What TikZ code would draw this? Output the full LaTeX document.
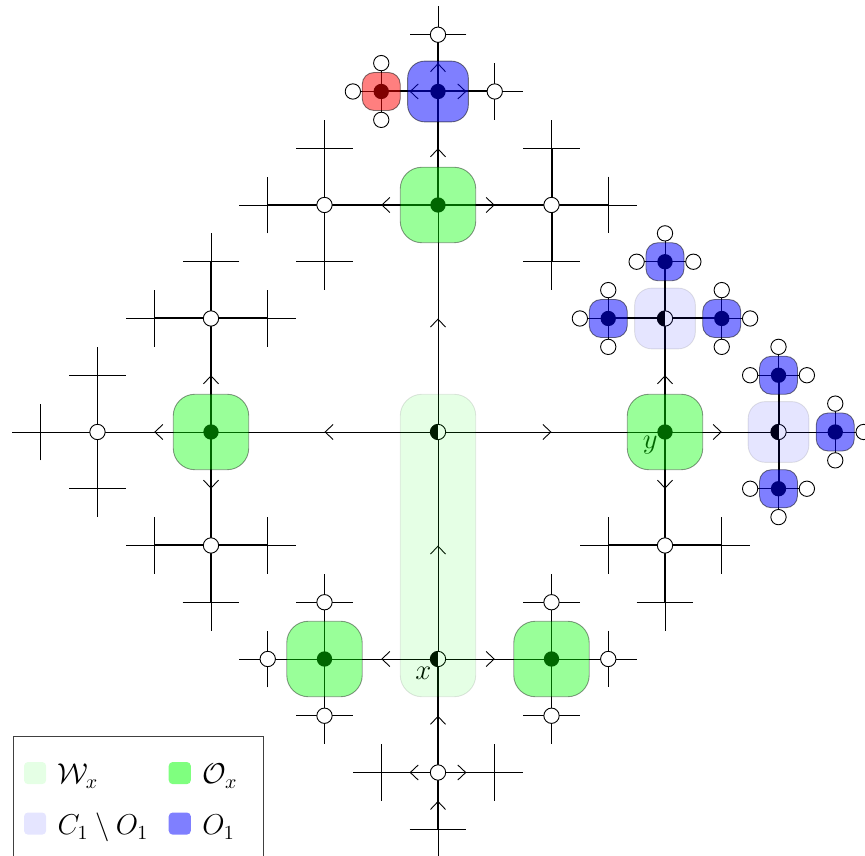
\documentclass[tikz,border=0pt]{standalone}
\usetikzlibrary{arrows.meta,decorations.markings,calc}
\begin{document}
\begin{tikzpicture}[font=\Large,
  tn/.style={line width=0.45pt},
  tk/.style={line width=1pt},
  md/.style={line width=0.75pt},
  mid/.style={postaction={decorate},decoration={markings,mark=at position 0.5 with {\arrow{Straight Barb[length=1.4mm,width=2.65mm,line width=0.45pt]}}}},
  midr/.style={postaction={decorate},decoration={markings,mark=at position 0.5 with {\arrowreversed{Straight Barb[length=1.4mm,width=2.65mm,line width=0.45pt]}}}},
  tnm/.style={tn,mid},
  tkm/.style={tk,mid},
  tkr/.style={tk,midr},
  wc/.style={circle,draw,fill=white,line width=0.45pt,minimum size=0.27cm,inner sep=0pt},
  dt/.style={circle,fill=black,minimum size=0.27cm,inner sep=0pt},
  hf/.style={wc,path picture={\fill[black] (path picture bounding box.south west) rectangle (path picture bounding box.north);}},
  sq/.style={rectangle,draw,inner sep=0pt,line width=0.45pt},
  gsq/.style={sq,fill=green,opacity=0.4,minimum size=1.33cm,rounded corners=0.38cm},
  wxsq/.style={sq,fill=green,opacity=0.1,minimum width=1.33cm,minimum height=5.33cm,rounded corners=0.38cm},
  bsq/.style={sq,fill=blue,opacity=0.5,minimum size=1.07cm,rounded corners=0.3cm},
  lsq/.style={sq,fill=blue,opacity=0.1,minimum size=1.07cm,rounded corners=0.3cm},
  sbsq/.style={sq,fill=blue,opacity=0.5,minimum size=0.67cm,rounded corners=0.21cm},
  rsq/.style={sq,fill=red,opacity=0.5,minimum size=0.67cm,rounded corners=0.21cm},
  legsq/.style={rectangle,inner sep=0pt,minimum size=0.39cm,rounded corners=0.07cm},
  legtx/.style={anchor=base west,inner sep=0pt}
]
\useasboundingbox (-7.718,-7.454) rectangle (7.524,7.612);

% main vertices
\coordinate (C) at (0,0);
\coordinate (X) at (0,-4);
\coordinate (L) at (-4,0);
\coordinate (R) at (4,0);
\coordinate (U) at (0,4);
\coordinate (LL) at (-6,0);
\coordinate (LU) at (-4,2);
\coordinate (LD) at (-4,-2);
\coordinate (RR) at (6,0);
\coordinate (RU) at (4,2);
\coordinate (RD) at (4,-2);
\coordinate (UL) at (-2,4);
\coordinate (UR) at (2,4);
\coordinate (UU) at (0,6);
\coordinate (XL) at (-2,-4);
\coordinate (XR) at (2,-4);
\coordinate (XD) at (0,-6);

% main edges
\draw[tnm] (X) -- (C);
\draw[tnm] (C) -- (L);
\draw[tnm] (C) -- (R);
\draw[tnm] (C) -- (U);
\draw[tnm] (X) -- (XL);
\draw[tnm] (X) -- (XR);
\draw[tkm] (XD) -- (X);
\draw[tkm] (U) -- (UU);
\draw[tkm] (U) -- (UL);
\draw[tkm] (U) -- (UR);
\draw[tnm] (L) -- (LL);
\draw[tkm] (L) -- (LU);
\draw[tkm] (L) -- (LD);
\draw[tnm] (R) -- (RR);
\draw[tkm] (R) -- (RU);
\draw[tkm] (R) -- (RD);

% crosses (depth 3, no circle)
\foreach \n/\p/\dx/\dy/\w in {a1/LL/-1/0/tn, a2/LL/0/1/md, a3/LL/0/-1/md,
  a4/LU/-1/0/tk, a5/LU/1/0/tk, a6/LU/0/1/tk,
  a7/LD/-1/0/tk, a8/LD/1/0/tk, a9/LD/0/-1/tk,
  a10/RD/-1/0/tk, a11/RD/1/0/tk, a12/RD/0/-1/tk,
  a13/UL/-1/0/tk, a14/UL/0/1/tk, a15/UL/0/-1/tk,
  a16/UR/1/0/tk, a17/UR/0/1/tk, a18/UR/0/-1/tk,
  a19/XD/-1/0/tkm, a20/XD/1/0/tkm, a21/XD/0/-1/tkr} {
  \coordinate (q\n) at ($(\p)+(\dx,\dy)$);
  \coordinate (e\n) at ($(\p)+1.5*(\dx,\dy)$);
  \coordinate (s\n) at ($(q\n)+0.5*(\dy,\dx)$);
  \coordinate (t\n) at ($(q\n)-0.5*(\dy,\dx)$);
  \draw[\w] (\p) -- (q\n);
  \draw[tn] (q\n) -- (e\n);
  \draw[tn] (s\n) -- (t\n);
}

% depth-3 white circles with short lines
\foreach \n/\p/\dx/\dy/\w in {c1/XL/-1/0/tn, c2/XL/0/1/tn, c3/XL/0/-1/tn,
  c4/XR/1/0/tn, c5/XR/0/1/tn, c6/XR/0/-1/tn,
  c7/UU/0/1/tkm, c8/UU/1/0/tkm} {
  \coordinate (q\n) at ($(\p)+(\dx,\dy)$);
  \coordinate (e\n) at ($(\p)+1.5*(\dx,\dy)$);
  \coordinate (s\n) at ($(q\n)+0.5*(\dy,\dx)$);
  \coordinate (t\n) at ($(q\n)-0.5*(\dy,\dx)$);
  \draw[\w] (\p) -- (q\n);
  \draw[tn] (q\n) -- (e\n);
  \draw[tn] (s\n) -- (t\n);
  \node[wc] (w\n) at (q\n) {};
}

% depth-3 coloured nodes with white circles
\foreach \n/\p/\dx/\dy/\w in {b1/RU/-1/0/tk, b2/RU/1/0/tk, b3/RU/0/1/tk,
  b4/RR/0/1/tk, b5/RR/0/-1/tk, b6/RR/1/0/tn, r1/UU/-1/0/tkm} {
  \coordinate (q\n) at ($(\p)+(\dx,\dy)$);
  \coordinate (e\n) at ($(\p)+1.5*(\dx,\dy)$);
  \coordinate (s\n) at ($(q\n)+0.5*(\dy,\dx)$);
  \coordinate (t\n) at ($(q\n)-0.5*(\dy,\dx)$);
  \draw[\w] (\p) -- (q\n);
  \draw[tn] (q\n) -- (e\n);
  \draw[tn] (s\n) -- (t\n);
  \node[wc] (we\n) at (e\n) {};
  \node[wc] (ws\n) at (s\n) {};
  \node[wc] (wt\n) at (t\n) {};
  \node[dt] (d\n) at (q\n) {};
}

% vertices
\node[hf] (nC) at (C) {};
\node[hf] (nX) at (X) {};
\node[hf] (nRU) at (RU) {};
\node[hf] (nRR) at (RR) {};
\foreach \p in {L,R,U,XL,XR,UU} \node[dt] (n\p) at (\p) {};
\foreach \p in {LL,LU,LD,RD,UL,UR,XD} \node[wc] (n\p) at (\p) {};

% labels
\node[inner sep=0pt] (lx) at (-0.26,-4.25) {$x$};
\node[inner sep=0pt] (ly) at (3.74,-0.23) {$y$};

% overlays
\node[wxsq] (oW) at (0,-2) {};
\foreach \p in {L,R,U,XL,XR} \node[gsq] (g\p) at (\p) {};
\node[bsq] (bUU) at (UU) {};
\node[lsq] (lRU) at (RU) {};
\node[lsq] (lRR) at (RR) {};
\foreach \n in {b1,b2,b3,b4,b5,b6} \node[sbsq] (o\n) at (q\n) {};
\node[rsq] (or1) at (qr1) {};

% legend
\draw[line width=0.5pt,black!75] (-7.475,-7.6) |- (-3.08,-5.37) -- (-3.08,-7.6);
\node[legsq,fill=green,opacity=0.1] (k1) at (-7.10,-6.01) {};
\node[legsq,fill=green,opacity=0.5] (k2) at (-4.55,-6.01) {};
\node[legsq,fill=blue,opacity=0.1] (k3) at (-7.10,-6.90) {};
\node[legsq,fill=blue,opacity=0.5] (k4) at (-4.55,-6.90) {};
\node[legtx] (t1) at (-6.71,-6.20) {$\mathcal{W}_x$};
\node[legtx] (t2) at (-4.16,-6.20) {$\mathcal{O}_x$};
\node[legtx] (t3) at (-6.71,-7.10) {$C_1\setminus O_1$};
\node[legtx] (t4) at (-4.16,-7.10) {$O_1$};
\end{tikzpicture}
\end{document}
